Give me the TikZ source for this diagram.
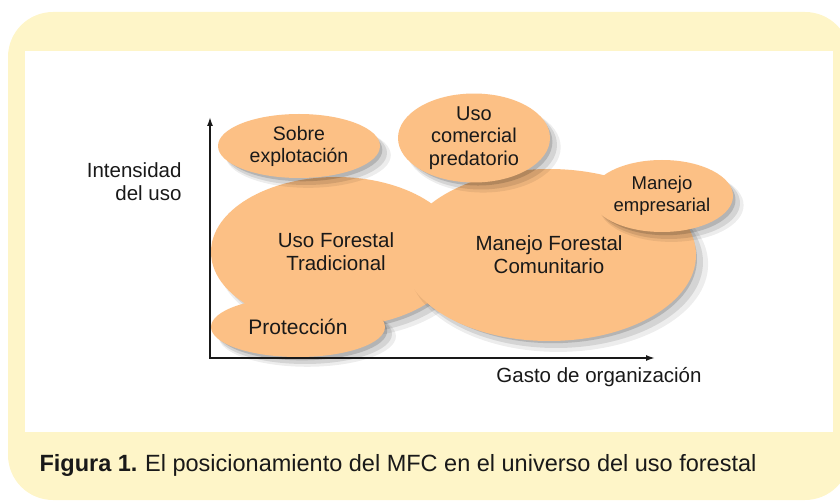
\documentclass[tikz,border=0pt]{standalone}
\usepackage{fontspec}
\setmainfont{Liberation Sans}
\usepackage{xcolor}
\usepackage{tikz}
\usetikzlibrary{arrows.meta,positioning,shapes.geometric,shadows}
\definecolor{panelyellow}{RGB}{254,245,200}
\definecolor{bloborange}{RGB}{252,192,133}
\definecolor{inkdark}{RGB}{25,25,25}

\tikzset{
  blob/.style={ellipse, fill=bloborange, inner sep=0pt, align=center,
    font=\fontsize{20.5}{23}\selectfont, text=inkdark,
    drop shadow={shadow xshift=9pt, shadow yshift=-9pt, opacity=0.07, fill=black, shadow scale=1.02},
    drop shadow={shadow xshift=7pt, shadow yshift=-7pt, opacity=0.1, fill=black},
    drop shadow={shadow xshift=4pt, shadow yshift=-4pt, opacity=0.15, fill=black, shadow scale=0.98}},
  axislabel/.style={font=\fontsize{20.5}{23}\selectfont, text=inkdark, align=right}
}

\begin{document}
\begin{tikzpicture}[x=1pt, y=-1pt]
  \useasboundingbox (0,0) rectangle (840,502);

  % Panel
  \fill[panelyellow, rounded corners=45pt] (8,12) rectangle (850,500);
  \fill[white] (25,51) rectangle (833,432);

  % Ellipses (back to front)
  \node[blob, minimum width=250pt, minimum height=150pt] (uft) at (336,252) {Uso Forestal\\Tradicional};
  \node[blob, minimum width=162pt, minimum height=64pt, font=\fontsize{19.5}{22}\selectfont] (sobre) at (299,146) {Sobre\\explotación};
  \node[blob, minimum width=174pt, minimum height=60pt, font=\fontsize{21}{23}\selectfont] (prot) at (298,327) {Protección};
  \node[blob, minimum width=294pt, minimum height=172pt] (mfc) at (549,255) {Manejo Forestal\\Comunitario};
  \node[blob, minimum width=152pt, minimum height=76pt, font=\fontsize{20}{22.5}\selectfont] (comercial) at (474,138) {Uso\\comercial\\predatorio};
  \node[blob, minimum width=142pt, minimum height=72pt, font=\fontsize{18.5}{22}\selectfont] (empresarial) at (662,196) {Manejo\\empresarial};

  % Axes
  \coordinate (origin) at (210,358);
  \coordinate (ytop) at (210,117);
  \coordinate (xend) at (655,358);
  \draw[line width=1.6pt, inkdark, {Latex[length=9pt,width=6pt]}-{Latex[length=9pt,width=6pt]}] (ytop) |- (xend);

  \node[axislabel, anchor=east] (ylab) at (185,182) {Intensidad\\del uso};
  \node[axislabel] (xlab) at (599,377) {Gasto de organización};

  % Caption
  \node[anchor=west, font=\fontsize{23.5}{26}\selectfont, text=inkdark] (caption) at (36,465)
    {\textbf{Figura 1.}\kern-1pt{} El posicionamiento del MFC en el universo del uso forestal};
\end{tikzpicture}
\end{document}
